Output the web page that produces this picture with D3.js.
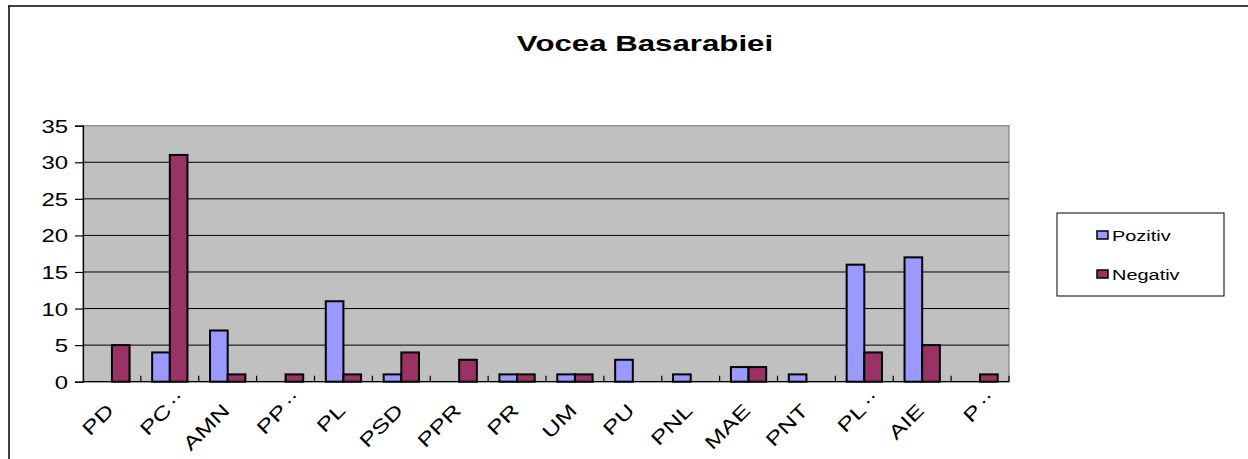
<!DOCTYPE html>
<html>
<head>
<meta charset="utf-8">
<script src="https://cdn.jsdelivr.net/npm/d3@7"></script>
<style>
  body { margin: 0; background: #fff; }
  svg text { font-family: "Liberation Sans", Arial, sans-serif; fill: #000; }
</style>
</head>
<body>
<svg id="chart" width="1248" height="459"></svg>
<script>
// party labels (truncated like in the original chart)
var categories = ["PD", "PC..", "AMN", "PP..", "PL", "PSD", "PPR", "PR", "UM", "PU", "PNL", "MAE", "PNT", "PL..", "AIE", "P.."];
var pozitiv = [0, 4, 7, 0, 11, 1, 0, 1, 1, 3, 1, 2, 1, 16, 17, 0];
var negativ = [5, 31, 1, 1, 1, 4, 3, 1, 1, 0, 0, 2, 0, 4, 5, 1];
var seriesNames = ["Pozitiv", "Negativ"];
var seriesColors = ["#9999ff", "#993366"];
var yTicks = [0, 5, 10, 15, 20, 25, 30, 35];
var title = "Vocea Basarabiei";

var stretch = 1.33; // picture is stretched sideways, text too

var svg = d3.select("#chart");

// outer frame (only top + left edges are visible)
svg.append("line").attr("x1", 8).attr("x2", 1248).attr("y1", 6).attr("y2", 6)
  .attr("stroke", "#000").attr("stroke-width", 1.5);
svg.append("line").attr("x1", 9).attr("x2", 9).attr("y1", 6).attr("y2", 459)
  .attr("stroke", "#000").attr("stroke-width", 1.5);

var plot = {left: 83, right: 1009, top: 125.7, bottom: 381.7};

var x = d3.scaleBand().domain(categories).range([plot.left, plot.right]);
var xs = d3.scaleBand().domain(seriesNames).range([0, x.bandwidth()])
  .paddingInner(0).paddingOuter(0.64);
var y = d3.scaleLinear().domain([0, 35]).range([plot.bottom, plot.top]);

// plot background
svg.append("rect")
  .attr("x", plot.left).attr("y", plot.top)
  .attr("width", plot.right - plot.left).attr("height", plot.bottom - plot.top)
  .attr("fill", "#c0c0c0").attr("stroke", "#808080").attr("stroke-width", 1.2);

// gridlines
svg.append("g").selectAll("line")
  .data(yTicks.filter(function(t){ return t > 0 && t < 35; }))
  .enter().append("line")
  .attr("x1", plot.left).attr("x2", plot.right)
  .attr("y1", function(d){ return y(d); }).attr("y2", function(d){ return y(d); })
  .attr("stroke", "#000").attr("stroke-width", 1);

// y axis
var yAxis = svg.append("g")
  .attr("transform", "translate(" + plot.left + ",0)")
  .call(d3.axisLeft(y).tickValues(yTicks).tickSize(8).tickPadding(0).tickFormat(d3.format("d")));
yAxis.select(".domain").attr("stroke", "#000").attr("stroke-width", 1.2);
yAxis.selectAll(".tick line").attr("stroke", "#000").attr("stroke-width", 1.2);
yAxis.selectAll(".tick text").remove();
yAxis.selectAll(".tick").append("text")
  .attr("transform", "translate(-15,6.5) scale(" + stretch + ",1)")
  .attr("text-anchor", "end")
  .attr("font-size", 18)
  .text(function(d){ return d; });

// bars
var groups = svg.append("g").selectAll("g")
  .data(categories)
  .enter().append("g")
  .attr("transform", function(d){ return "translate(" + x(d) + ",0)"; });

groups.selectAll("rect")
  .data(function(d, i){
    return [
      {name: "Pozitiv", value: pozitiv[i], color: seriesColors[0]},
      {name: "Negativ", value: negativ[i], color: seriesColors[1]}
    ];
  })
  .enter().filter(function(d){ return d.value > 0; })
  .append("rect")
  .attr("x", function(d){ return xs(d.name); })
  .attr("width", xs.bandwidth())
  .attr("y", function(d){ return y(d.value); })
  .attr("height", function(d){ return y(0) - y(d.value); })
  .attr("fill", function(d){ return d.color; })
  .attr("stroke", "#000").attr("stroke-width", 2);

// x axis, ticks point up into the plot
var xAxis = svg.append("g")
  .attr("transform", "translate(0," + plot.bottom + ")");
xAxis.append("line").attr("x1", plot.left).attr("x2", plot.right)
  .attr("stroke", "#000").attr("stroke-width", 1.2);
xAxis.selectAll("line.tk")
  .data(categories)
  .enter().append("line").attr("class", "tk")
  .attr("x1", function(d){ return x(d) + x.bandwidth(); })
  .attr("x2", function(d){ return x(d) + x.bandwidth(); })
  .attr("y1", 0).attr("y2", -6)
  .attr("stroke", "#000").attr("stroke-width", 1.2);

// rotated labels: the name ends under the category centre, the ".." sticks out past it
var labels = xAxis.selectAll("g.lbl")
  .data(categories)
  .enter().append("g").attr("class", "lbl")
  .attr("transform", function(d){
    return "translate(" + (x(d) + x.bandwidth() / 2 + 3) + ",30) rotate(-45) scale(1.34,1)";
  });
labels.append("text")
  .attr("text-anchor", "end")
  .attr("font-size", 19)
  .text(function(d){ return d.replace("..", ""); });
labels.filter(function(d){ return d.indexOf("..") > 0; })
  .append("text")
  .attr("x", 3).attr("y", -5)
  .attr("font-size", 19)
  .text("..");

// title
svg.append("text")
  .attr("transform", "translate(645,51) scale(1.42,1)")
  .attr("text-anchor", "middle")
  .attr("font-size", 22)
  .attr("font-weight", "bold")
  .text(title);

// legend
var legend = svg.append("g");
legend.append("rect")
  .attr("x", 1057).attr("y", 213).attr("width", 167).attr("height", 83)
  .attr("fill", "#fff").attr("stroke", "#000").attr("stroke-width", 1);

var items = legend.selectAll("g.item")
  .data(seriesNames)
  .enter().append("g").attr("class", "item")
  .attr("transform", function(d, i){ return "translate(1097," + (235 + i * 39) + ")"; });
items.append("rect")
  .attr("x", 0).attr("y", -4).attr("width", 11).attr("height", 8)
  .attr("fill", function(d, i){ return seriesColors[i]; })
  .attr("stroke", "#000").attr("stroke-width", 1.5);
items.append("text")
  .attr("transform", "translate(15,5.5) scale(" + stretch + ",1)")
  .attr("font-size", 15)
  .text(function(d){ return d; });
</script>
</body>
</html>
